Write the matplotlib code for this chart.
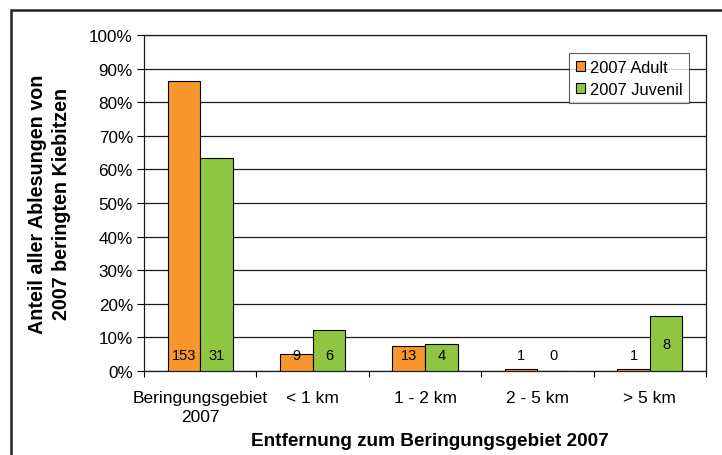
import matplotlib.pyplot as plt
from matplotlib.patches import Rectangle
import numpy as np

plt.rcParams['font.family'] = ['Liberation Sans', 'DejaVu Sans']

categories = ['Beringungsgebiet\n2007', '< 1 km', '1 - 2 km', '2 - 5 km', '> 5 km']
adult_counts = [153, 9, 13, 1, 1]
juvenil_counts = [31, 6, 4, 0, 8]
yticks = [0, 10, 20, 30, 40, 50, 60, 70, 80, 90, 100]

adult_pct = np.array(adult_counts) / sum(adult_counts) * 100
juv_pct = np.array(juvenil_counts) / sum(juvenil_counts) * 100

orange = '#F7962B'
green = '#8EC640'

fig = plt.figure(figsize=(7.22, 4.56), dpi=100)
ax = fig.add_axes([144 / 722, 84 / 456, 562 / 722, 336 / 456])

x = np.arange(len(categories))
w = 0.29
ax.bar(x - w / 2, adult_pct, w, color=orange, edgecolor='black', linewidth=0.8,
       label='2007 Adult', zorder=3)
ax.bar(x + w / 2, juv_pct, w, color=green, edgecolor='black', linewidth=0.8,
       label='2007 Juvenil', zorder=3)

# count labels (Excel "inside base" style)
for i in range(len(categories)):
    ax.text(x[i] - w / 2, 4.7, str(adult_counts[i]), ha='center', va='center',
            fontsize=10.5, zorder=4)
    yj = juv_pct[i] / 2 if 14 < juv_pct[i] < 20 else 4.7
    ax.text(x[i] + w / 2, yj, str(juvenil_counts[i]), ha='center', va='center',
            fontsize=10.5, zorder=4)

ax.set_xlim(-0.5, len(categories) - 0.5)
ax.set_ylim(0, 100)
ax.set_yticks(yticks)
ax.set_yticklabels([f'{v}%' for v in yticks], fontsize=12.3)
ax.yaxis.grid(True, color='#1a1a1a', linewidth=0.9, zorder=0)

ax.set_xticks(np.arange(len(categories) + 1) - 0.5)
ax.set_xticklabels([])
ax.set_xticks(x, minor=True)
ax.set_xticklabels(categories, minor=True, fontsize=12.5, linespacing=1.3)
ax.tick_params(axis='x', which='minor', length=0, pad=14)
ax.tick_params(axis='x', which='major', direction='out', length=4, width=0.8)
ax.tick_params(axis='y', direction='out', length=5, width=0.8, pad=3)

for s in ax.spines.values():
    s.set_linewidth(0.9)
    s.set_color('#1a1a1a')

ax.set_ylabel('Anteil aller Ablesungen von\n2007 beringten Kiebitzen', fontsize=14.2,
              fontweight='bold', linespacing=1.3)
ax.yaxis.set_label_coords((71 - 144) / 562, 0.5)
ax.set_xlabel('Entfernung zum Beringungsgebiet 2007', fontsize=13.7, fontweight='bold')
ax.xaxis.set_label_coords((430 - 144) / 562, (372 - 433) / 336)

leg = ax.legend(loc='upper left', bbox_to_anchor=((569 - 144) / 562, 1 - (54 - 36) / 336),
                fontsize=11.8, frameon=True, fancybox=False, edgecolor='#333333',
                handlelength=0.6, handleheight=0.6, handletextpad=0.3,
                borderpad=0.4, labelspacing=0.45, borderaxespad=0)
leg.get_frame().set_linewidth(0.8)
leg.set_zorder(5)

# outer chart border (cropped on right and bottom)
fig.patches.append(Rectangle((11 / 722, -0.05), 1.0, (445 / 456) + 0.05,
                             transform=fig.transFigure, fill=False,
                             edgecolor='#222222', linewidth=1.8))

fig.savefig('out.png', dpi=100)
